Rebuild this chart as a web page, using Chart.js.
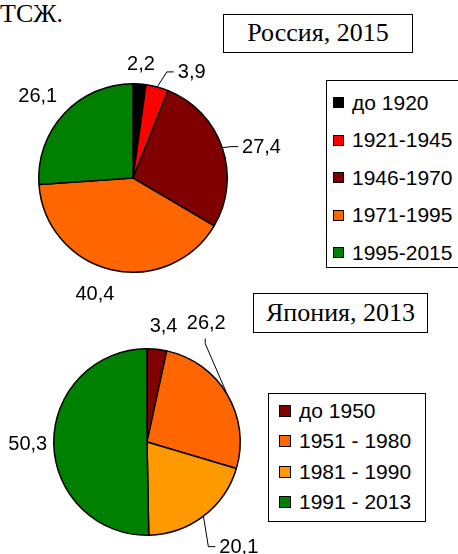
<!DOCTYPE html>
<html>
<head>
<meta charset="utf-8">
<script src="https://cdn.jsdelivr.net/npm/chart.js@4/dist/chart.umd.min.js"></script>
<style>
  body { margin: 0; background: #fff; }
  #page { position: relative; width: 458px; height: 554px; overflow: hidden; background: #fff; }
  canvas { position: absolute; left: 0; top: 0; }
  .serif { font-family: "Liberation Serif", "Times New Roman", serif; color: #000; }
  .title { position: absolute; box-sizing: border-box; border: 1.5px solid #000; background: #fff;
           font-size: 26px; text-align: center; }
  .legend { position: absolute; box-sizing: border-box; border: 1.5px solid #000; background: #fff;
            font-family: "Liberation Sans", Arial, sans-serif; font-size: 21px; color: #000; }
  .legend .row { display: flex; align-items: center; white-space: nowrap; }
  .legend .mk { display: inline-block; box-sizing: border-box; border: 1px solid #000; }
</style>
</head>
<body>
<div id="page">
  <div class="serif" style="position:absolute;left:0;top:1px;font-size:26px;line-height:26px;">ТСЖ.</div>
  <canvas id="ruChart" width="458" height="554"></canvas>
  <canvas id="jpChart" width="458" height="554"></canvas>
  <div class="title serif" style="left:223px;top:14px;width:190px;height:39px;line-height:36px;">Россия, 2015</div>
  <div class="title serif" style="left:253px;top:293px;width:175px;height:40px;line-height:37px;">Япония, 2013</div>
  <div id="ruLegend" class="legend" style="left:326px;top:80px;width:140px;height:188px;padding-top:3px;"></div>
  <div id="jpLegend" class="legend" style="left:268px;top:393px;width:158px;height:129px;padding-top:2px;"></div>
</div>
<script>
// Россия, 2015
var ruLabels = ['до 1920', '1921-1945', '1946-1970', '1971-1995', '1995-2015'];
var ruValues = [2.2, 3.9, 27.4, 40.4, 26.1];
var ruColors = ['#000000', '#ff0000', '#800000', '#ff6600', '#008000'];

// Япония, 2013
var jpLabels = ['до 1950', '1951 - 1980', '1981 - 1990', '1991 - 2013'];
var jpValues = [3.4, 26.2, 20.1, 50.3];
var jpColors = ['#800000', '#ff6600', '#ff9900', '#008000'];

// where each value label sits: extra distance past the rim, angle nudge (deg), leader style
var ruLabelPlace = [
    {ext: 21, nudge: 0},
    {ext: 27, nudge: 14, leader: 'left'},
    {ext: 38, nudge: 5, leader: 'left'},
    {ext: 27, nudge: 5},
    {ext: 32, nudge: -2}
];
var jpLabelPlace = [
    {ext: 24, nudge: 2},
    {ext: 40, nudge: -33, leader: 'below'},
    {ext: 46, nudge: -4, leader: 'left'},
    {ext: 26, nudge: 0}
];

function fmt(v) { return v.toFixed(1).replace('.', ','); }

var valueLabels = {
    id: 'valueLabels',
    afterDatasetsDraw: function(chart, args, opts) {
        var ctx = chart.ctx;
        var meta = chart.getDatasetMeta(0);
        var values = chart.data.datasets[0].data;
        ctx.save();
        ctx.font = '20px "Liberation Sans", Arial, sans-serif';
        ctx.fillStyle = '#000';
        ctx.strokeStyle = '#000';
        ctx.lineWidth = 1;
        ctx.textAlign = 'center';
        ctx.textBaseline = 'middle';
        meta.data.forEach(function(arc, i) {
            var p = opts.place[i];
            var mid = (arc.startAngle + arc.endAngle) / 2;
            var a = mid + p.nudge * Math.PI / 180;
            var r = arc.outerRadius;
            var tx = arc.x + (r + p.ext) * Math.cos(a);
            var ty = arc.y + (r + p.ext) * Math.sin(a);
            var txt = fmt(values[i]);
            var w = ctx.measureText(txt).width;
            if (p.leader) {
                var ex = arc.x + r * Math.cos(mid);
                var ey = arc.y + r * Math.sin(mid);
                ctx.beginPath();
                ctx.moveTo(ex, ey);
                if (p.leader === 'left') {
                    var lx = tx - w / 2;
                    ctx.lineTo(lx - 11, ty);
                    ctx.lineTo(lx - 4, ty);
                } else {
                    ctx.lineTo(tx - 1, ty + 21);
                    ctx.lineTo(tx - 1, ty + 16);
                }
                ctx.stroke();
            }
            ctx.fillText(txt, tx, ty + 1);
        });
        ctx.restore();
    }
};

function makePie(id, labels, values, colors, pad, place) {
    return new Chart(document.getElementById(id), {
        type: 'pie',
        data: {
            labels: labels,
            datasets: [{
                data: values,
                backgroundColor: colors,
                borderColor: '#000000',
                borderWidth: 1.5
            }]
        },
        options: {
            responsive: false,
            animation: false,
            layout: {padding: pad},
            plugins: {
                legend: {display: false},
                tooltip: {enabled: false},
                valueLabels: {place: place}
            }
        },
        plugins: [valueLabels]
    });
}

makePie('ruChart', ruLabels, ruValues, ruColors, {left: 38, top: 83, right: 230, bottom: 281}, ruLabelPlace);
makePie('jpChart', jpLabels, jpValues, jpColors, {left: 53, top: 348, right: 217, bottom: 18}, jpLabelPlace);

function buildLegend(boxId, labels, colors, rowH, mkLeft, mkSize, gap) {
    var box = document.getElementById(boxId);
    labels.forEach(function(lab, i) {
        var row = document.createElement('div');
        row.className = 'row';
        row.style.height = rowH + 'px';
        row.style.paddingLeft = mkLeft + 'px';
        var mk = document.createElement('span');
        mk.className = 'mk';
        mk.style.width = mkSize + 'px';
        mk.style.height = mkSize + 'px';
        mk.style.background = colors[i];
        mk.style.marginRight = gap + 'px';
        var t = document.createElement('span');
        t.textContent = lab;
        row.appendChild(mk);
        row.appendChild(t);
        box.appendChild(row);
    });
}

buildLegend('ruLegend', ruLabels, ruColors, 37.5, 6, 11, 8);
buildLegend('jpLegend', jpLabels, jpColors, 30.3, 10, 12, 8);
</script>
</body>
</html>
